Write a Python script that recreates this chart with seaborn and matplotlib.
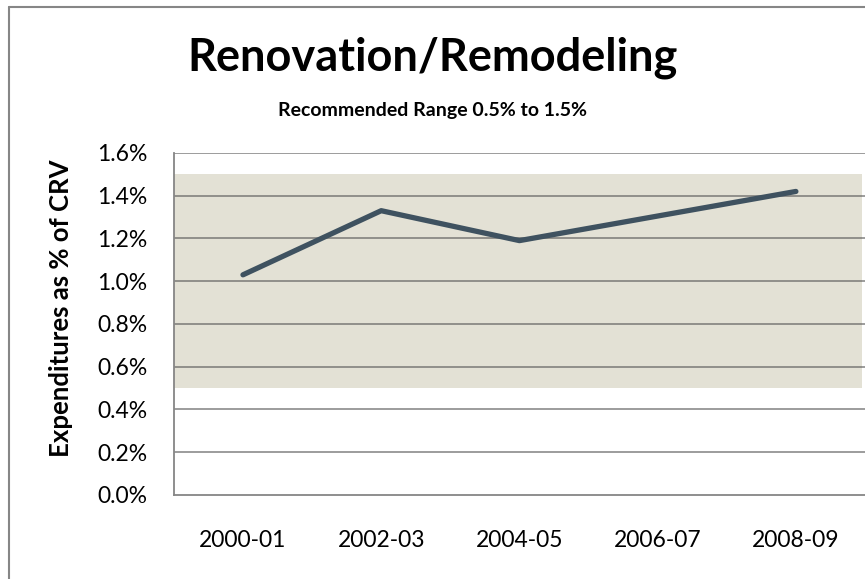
import matplotlib
matplotlib.use("Agg")
import matplotlib.pyplot as plt
import seaborn as sns
import pandas as pd
from matplotlib.ticker import FuncFormatter
from matplotlib.lines import Line2D

periods = ["2000-01", "2002-03", "2004-05", "2006-07", "2008-09"]
pct_crv = [1.03, 1.33, 1.19, 1.305, 1.42]
range_low = 0.5
range_high = 1.5
y_ticks = [0.0, 0.2, 0.4, 0.6, 0.8, 1.0, 1.2, 1.4, 1.6]

sns.set_theme(style="white")
plt.rcParams["font.family"] = ["Lato", "DejaVu Sans"]
plt.rcParams["text.color"] = "black"
plt.rcParams["axes.labelcolor"] = "black"

df = pd.DataFrame({"period": periods, "value": pct_crv})

fig = plt.figure(figsize=(8.65, 5.79), dpi=100)
ax = fig.add_axes([0.201, 0.1451, 0.799, 0.5907])

ax.axhspan(range_low, range_high, xmin=0, xmax=0.995, color="#E3E1D5", zorder=0, lw=0)
for t in y_ticks[1:]:
    ax.axhline(t, color="#5a5a5a", alpha=0.65, lw=1.3, zorder=1)

sns.lineplot(data=df, x="period", y="value", ax=ax, color="#3F5260", lw=3.8,
             sort=False, zorder=3, solid_capstyle="round")

ax.set_xlim(-0.5, 4.5)
ax.set_ylim(0, 1.6)
ax.set_yticks(y_ticks)
ax.yaxis.set_major_formatter(FuncFormatter(lambda v, p: f"{v:.1f}%"))
ax.tick_params(axis="y", length=0, pad=19, labelsize=16.5, colors="black")
ax.tick_params(axis="x", length=0, pad=25, labelsize=16.5, colors="black")
ax.set_xlabel("")
ax.set_ylabel("Expenditures as % of CRV", fontsize=18.5, fontweight="bold")
ax.yaxis.set_label_coords(-0.146, 0.545)

for s in ["top", "right"]:
    ax.spines[s].set_visible(False)
for s in ["left", "bottom"]:
    ax.spines[s].set_color("#868686")
    ax.spines[s].set_linewidth(1.3)
ax.set_facecolor("none")

fig.text(0.5, 0.9, "Renovation/Remodeling", ha="center", va="center",
         fontsize=32.5, fontweight="bold")
fig.text(0.5, 0.81, "Recommended Range 0.5% to 1.5%", ha="center", va="center",
         fontsize=14, fontweight="bold")

# outer chart border
fig.add_artist(Line2D([9/865, 9/865], [0, 1 - 7/579], transform=fig.transFigure,
                      color="#868686", lw=1.5))
fig.add_artist(Line2D([9/865, 1], [1 - 7/579, 1 - 7/579], transform=fig.transFigure,
                      color="#868686", lw=1.5))

fig.savefig("out.png", dpi=100)
